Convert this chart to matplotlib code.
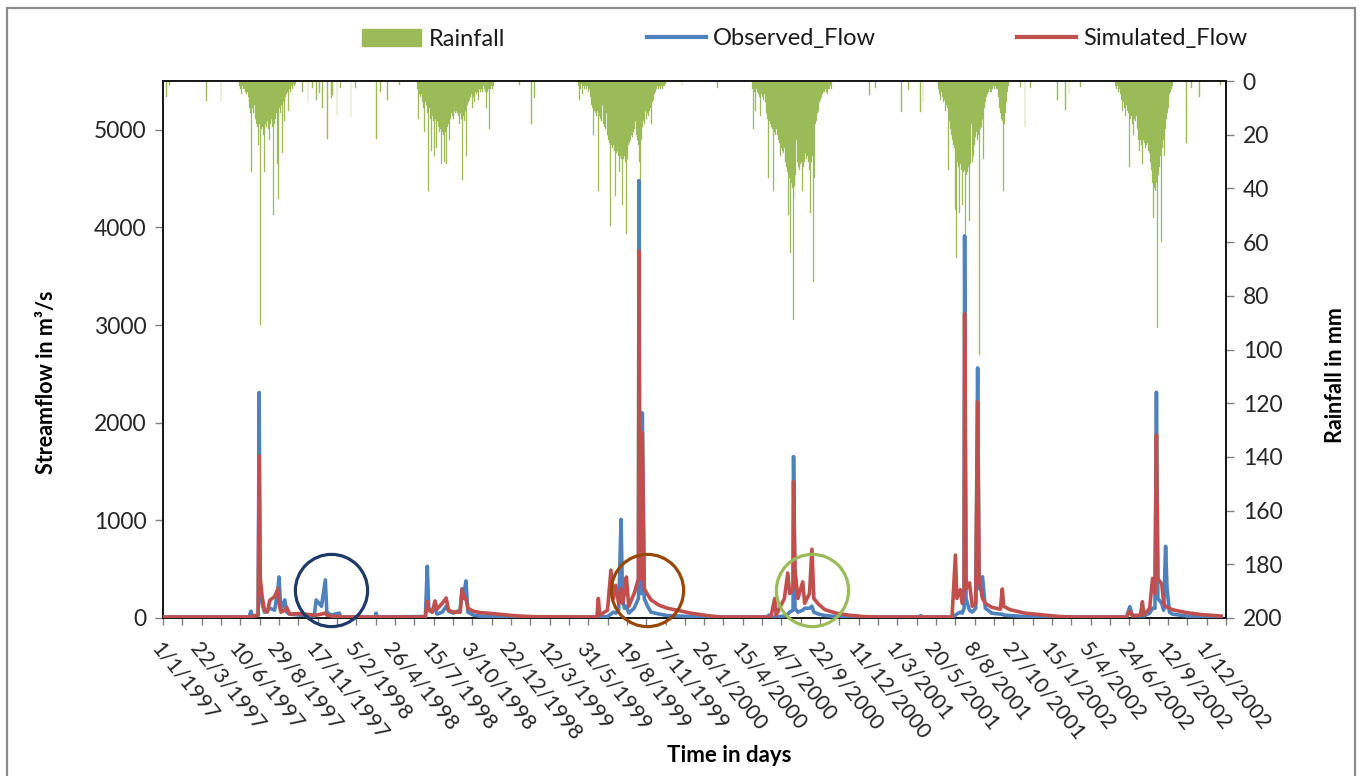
import numpy as np
import pandas as pd
import matplotlib
matplotlib.use("Agg")
import matplotlib.pyplot as plt
import matplotlib.dates as mdates
from matplotlib.patches import Patch, Rectangle
from matplotlib.lines import Line2D

plt.rcParams['font.family'] = ['Lato', 'DejaVu Sans']

# ---------------- data ----------------
flow_dates = [
    '1997-01-01', '1997-06-28', '1997-07-02', '1997-07-04', '1997-07-17', '1997-07-19', '1997-07-21', '1997-07-25',
    '1997-07-30', '1997-08-05', '1997-08-10', '1997-08-20', '1997-08-27', '1997-08-29', '1997-09-02', '1997-09-10',
    '1997-09-14', '1997-09-20', '1997-10-10', '1997-11-10', '1997-11-14', '1997-11-25', '1997-12-03', '1997-12-06',
    '1997-12-15', '1998-01-01', '1998-01-04', '1998-03-16', '1998-03-18', '1998-03-20',
    '1998-06-28', '1998-07-02', '1998-07-05', '1998-07-12', '1998-07-18', '1998-07-22', '1998-08-02', '1998-08-10',
    '1998-08-15', '1998-08-25', '1998-09-08', '1998-09-12', '1998-09-16', '1998-09-20', '1998-09-24', '1998-10-05',
    '1998-10-20', '1998-11-15', '1998-12-15', '1999-01-10', '1999-02-15',
    '1999-06-18', '1999-06-21', '1999-06-24', '1999-07-10', '1999-07-17', '1999-07-22', '1999-07-27', '1999-08-02',
    '1999-08-07', '1999-08-10', '1999-08-14', '1999-08-18', '1999-08-23', '1999-09-03', '1999-09-12', '1999-09-13',
    '1999-09-15', '1999-09-18', '1999-09-20', '1999-09-24', '1999-10-01', '1999-10-08', '1999-10-25', '1999-11-11',
    '1999-12-29', '2000-02-01', '2000-03-01',
    '2000-06-05', '2000-06-08', '2000-06-12', '2000-06-20', '2000-06-23', '2000-07-10', '2000-07-17', '2000-07-21',
    '2000-07-28', '2000-07-29', '2000-08-01', '2000-08-07', '2000-08-17', '2000-08-21', '2000-08-31', '2000-09-05',
    '2000-09-09', '2000-09-19', '2000-10-02', '2000-10-25', '2000-11-19', '2000-12-20', '2001-01-20',
    '2001-04-16', '2001-04-18', '2001-04-20', '2001-06-22', '2001-06-29', '2001-07-02', '2001-07-09', '2001-07-13',
    '2001-07-17', '2001-07-18', '2001-07-21', '2001-07-28', '2001-08-03', '2001-08-10', '2001-08-14', '2001-08-17',
    '2001-08-24', '2001-08-30', '2001-09-12', '2001-09-30', '2001-10-04', '2001-10-07', '2001-10-20', '2001-11-20',
    '2001-12-30', '2002-02-01', '2002-03-01',
    '2002-06-18', '2002-06-25', '2002-06-30', '2002-07-17', '2002-07-21', '2002-07-24', '2002-08-05', '2002-08-11',
    '2002-08-16', '2002-08-19', '2002-08-22', '2002-08-30', '2002-09-03', '2002-09-07', '2002-09-10', '2002-09-15',
    '2002-09-21', '2002-10-20', '2002-11-20', '2002-12-31',
]

observed_flow = [
    10, 10, 70, 20, 30, 2310, 300, 150, 60, 80, 100, 80, 300, 420, 80, 185, 60, 40, 30, 20, 185, 120, 390, 60, 30,
    50, 10, 10, 50, 10,
    15, 530, 100, 60, 100, 40, 60, 120, 70, 50, 80, 300, 250, 380, 60, 30, 20, 15, 10, 10, 10,
    10, 10, 10, 15, 40, 60, 50, 80, 1010, 200, 100, 120, 50, 100, 200, 4480, 300, 250, 2100, 200, 120, 60, 40, 25,
    15, 10, 10,
    10, 30, 10, 10, 10, 20, 40, 60, 80, 1653, 100, 60, 80, 100, 100, 120, 60, 40, 25, 15, 10, 10, 10,
    10, 25, 10, 10, 30, 40, 60, 50, 100, 3914, 200, 80, 60, 100, 2561, 300, 423, 100, 50, 40, 40, 30, 25, 15, 10,
    10, 10,
    10, 116, 30, 20, 30, 20, 50, 100, 100, 2313, 200, 150, 80, 734, 300, 60, 40, 20, 10, 10,
]

simulated_flow = [
    10, 10, 15, 15, 30, 1660, 420, 230, 80, 60, 180, 220, 300, 150, 60, 80, 110, 40, 45, 30, 30, 40, 50, 30, 20,
    15, 10, 10, 10, 10,
    10, 170, 80, 60, 175, 90, 150, 205, 80, 60, 60, 290, 200, 200, 100, 70, 55, 45, 30, 20, 12,
    10, 200, 30, 80, 490, 200, 335, 150, 300, 150, 250, 420, 120, 250, 400, 3760, 800, 400, 1900, 300, 240, 185, 130,
    100, 50, 25, 10,
    10, 10, 10, 200, 30, 200, 460, 250, 300, 1397, 500, 200, 370, 150, 250, 704, 200, 140, 85, 50, 30, 15, 10,
    10, 10, 10, 10, 645, 200, 290, 150, 300, 3115, 300, 360, 120, 150, 2216, 400, 200, 150, 110, 90, 297, 120, 85,
    50, 30, 15, 10,
    10, 70, 20, 30, 167, 30, 100, 406, 250, 1875, 400, 350, 150, 120, 110, 100, 85, 55, 35, 20,
]

# Rainfall (mm), wet-season blocks at 2-day steps
rain_1997_start = '1997-06-08'
rain_1997 = [2, 3, 5, 2, 3, 3, 4, 5, 4, 6, 8, 10, 12, 34, 10, 12, 9, 14, 16, 17, 24, 16, 91, 18, 17, 20, 34, 16,
             17, 15, 18, 22, 16, 14, 17, 50, 16, 14, 12, 31, 11, 44, 10, 12, 9, 27, 8, 15, 6, 5, 4, 11, 3, 4, 2,
             3, 1, 2, 1]
rain_1998_start = '1998-06-12'
rain_1998 = [3, 14, 5, 6, 5, 8, 10, 19, 8, 9, 12, 41, 10, 14, 26, 13, 15, 28, 14, 16, 25, 15, 17, 19, 18, 31, 19,
             20, 30, 19, 31, 17, 16, 22, 14, 12, 13, 14, 11, 12, 11, 12, 13, 16, 12, 14, 37, 13, 15, 12, 11, 28, 9,
             8, 7, 6, 5, 10, 6, 8, 4, 5, 4, 7, 3, 4, 3, 4, 2, 3, 4, 10, 4, 3, 18, 3, 2, 3, 5, 2]
rain_1999_start = '1999-05-10'
rain_1999 = [2, 7, 2, 3, 1, 5, 2, 3, 2, 3, 2, 4, 3, 6, 9, 10, 20, 11, 12, 13, 11, 41, 13, 14, 15, 9, 16, 17, 18,
             12, 20, 21, 22, 23, 54, 24, 25, 24, 26, 43, 27, 26, 28, 34, 28, 29, 46, 29, 28, 30, 57, 29, 24, 23,
             22, 20, 21, 19, 18, 15, 20, 21, 22, 24, 30, 96, 22, 17, 15, 16, 11, 14, 12, 13, 11, 10, 16, 8, 7, 5,
             4, 3, 2, 3, 2, 3, 2, 3, 2, 2, 1]
rain_2000_start = '2000-05-05'
rain_2000 = [3, 18, 4, 11, 3, 4, 5, 6, 13, 5, 6, 7, 5, 8, 9, 12, 14, 36, 15, 16, 17, 18, 41, 19, 20, 18, 20, 22,
             23, 28, 25, 26, 27, 25, 30, 32, 34, 50, 36, 64, 38, 40, 89, 39, 44, 35, 22, 30, 32, 33, 31, 30, 41,
             32, 30, 27, 29, 28, 30, 33, 49, 30, 28, 75, 36, 16, 15, 12, 11, 8, 7, 6, 5, 4, 5, 4, 3, 4, 5, 3, 3,
             2, 3]
rain_2001_start = '2001-05-25'
rain_2001 = [3, 5, 7, 4, 6, 8, 7, 11, 9, 10, 33, 15, 18, 20, 22, 26, 24, 25, 48, 66, 30, 32, 49, 31, 33, 46, 34,
             33, 57, 35, 34, 32, 52, 31, 16, 30, 28, 24, 21, 19, 22, 20, 102, 18, 17, 15, 14, 29, 10, 8, 6, 5, 4,
             3, 4, 4, 3, 2, 3, 2, 3, 3, 6, 10, 12, 14, 15, 41, 16, 12, 8, 4, 2]
rain_2002_start = '2002-05-27'
rain_2002 = [2, 3, 2, 4, 3, 5, 7, 11, 8, 10, 13, 9, 11, 12, 32, 14, 13, 16, 20, 14, 15, 13, 18, 22, 26, 19, 22,
             24, 31, 22, 23, 25, 24, 23, 26, 27, 30, 33, 38, 51, 40, 41, 38, 92, 35, 32, 28, 60, 25, 22, 28, 18,
             14, 12, 10, 7, 5, 4, 3, 2]

# Isolated rainfall days outside the wet-season blocks
rain_extra_dates = [
    '1997-01-08', '1997-01-15', '1997-04-01', '1997-05-01', '1997-10-17', '1997-10-28', '1997-11-07', '1997-11-14',
    '1997-11-21', '1997-11-28', '1997-12-08', '1997-12-15', '1997-12-18', '1997-12-27', '1998-01-04', '1998-01-25',
    '1998-02-04', '1998-03-18', '1998-03-28', '1998-04-11', '1998-05-05', '1999-01-08', '1999-02-03', '1999-02-08',
    '1999-12-11', '2000-02-23', '2001-01-02', '2001-01-14', '2001-03-09', '2001-03-23', '2001-04-18', '2001-04-23',
    '2001-11-11', '2001-11-20', '2001-12-01', '2002-01-26', '2002-02-12', '2002-02-19', '2002-03-15', '2002-10-21',
    '2002-10-31', '2002-11-17', '2002-12-29',
]
rain_extra_mm = [
    5.8, 1.5, 7.4, 7.4, 4, 7.7, 2.7, 7, 4.6, 10.2, 21.7, 6.4, 5.2, 12.7, 2.7, 13.3,
    2.7, 21.7, 4, 7, 1.5, 1.5, 16.1, 6.4,
    1.5, 2.7, 5.2, 2.7, 11.4, 3.3, 11.4, 7.7,
    2.1, 17, 2.7, 7, 10.8, 5.2, 2.1, 23.2,
    2.7, 5.8, 1.5,
]

date_tick_labels = ['1/1/1997', '22/3/1997', '10/6/1997', '29/8/1997', '17/11/1997', '5/2/1998', '26/4/1998',
                    '15/7/1998', '3/10/1998', '22/12/1998', '12/3/1999', '31/5/1999', '19/8/1999', '7/11/1999',
                    '26/1/2000', '15/4/2000', '4/7/2000', '22/9/2000', '11/12/2000', '1/3/2001', '20/5/2001',
                    '8/8/2001', '27/10/2001', '15/1/2002', '5/4/2002', '24/6/2002', '12/9/2002', '1/12/2002']
flow_ticks = [0, 1000, 2000, 3000, 4000, 5000]
rain_ticks = [0, 20, 40, 60, 80, 100, 120, 140, 160, 180, 200]

# circled regions (date, flow level, colour)
circle_dates = ['1997-12-14', '1999-09-29', '2000-09-06']
circle_flow = [287, 290, 285]
circle_colors = ['#1F3A68', '#974806', '#9BBB59']

assert len(flow_dates) == len(observed_flow) == len(simulated_flow)
assert len(rain_extra_dates) == len(rain_extra_mm)

# ---------------- figure ----------------
W, H = 1362, 776
fig = plt.figure(figsize=(W / 100, H / 100), dpi=100)
fig.patches.append(Rectangle((7 / W, -0.05), (1355 - 7) / W, 1.05 - 8 / H, transform=fig.transFigure,
                             fill=False, edgecolor='#8c8c8c', linewidth=1.6))

left, right, top, bottom = 163, 1226, 81, 618
ax = fig.add_axes([left / W, 1 - bottom / H, (right - left) / W, (bottom - top) / H])
axr = ax.twinx()
ax.set_zorder(axr.get_zorder() + 1)
ax.patch.set_visible(False)

green = '#9BBB59'
blue = '#4F81BD'
red = '#C0504D'

# rainfall bars
blocks = [(rain_1997_start, rain_1997), (rain_1998_start, rain_1998), (rain_1999_start, rain_1999),
          (rain_2000_start, rain_2000), (rain_2001_start, rain_2001), (rain_2002_start, rain_2002)]
for start, vals in blocks:
    d = pd.date_range(start, periods=len(vals), freq='2D')
    axr.bar(mdates.date2num(d), vals, width=2.0, color=green, linewidth=0.2, edgecolor=green, align='center')
xd = mdates.date2num(pd.to_datetime(rain_extra_dates))
axr.bar(xd, rain_extra_mm, width=1.8, color=green, linewidth=0.3, edgecolor=green)
axr.set_ylim(200, 0)
axr.set_yticks(rain_ticks)

# flows
fx = mdates.date2num(pd.to_datetime(flow_dates))
ax.plot(fx, observed_flow, color=blue, lw=2.6, solid_joinstyle='round', zorder=3)
ax.plot(fx, simulated_flow, color=red, lw=2.6, solid_joinstyle='round', zorder=4)

# circles
cx = mdates.date2num(pd.to_datetime(circle_dates))
for x, y, c in zip(cx, circle_flow, circle_colors):
    ax.plot([x], [y], marker='o', ms=52, mfc='none', mec=c, mew=2.3, zorder=6, clip_on=False)

ax.set_ylim(0, 5500)
ax.set_yticks(flow_ticks)
x0 = mdates.date2num(pd.Timestamp('1997-01-01'))
ax.set_xlim(x0, x0 + 2191)

major = pd.to_datetime(date_tick_labels, format='%d/%m/%Y')
ax.set_xticks(mdates.date2num(major))
ax.set_xticklabels(date_tick_labels)
ax.set_xticks(mdates.date2num(major + pd.Timedelta(days=40)), minor=True)

tick_color = '#262626'
for a in (ax, axr):
    for s in a.spines.values():
        s.set_color('#1a1a1a')
        s.set_linewidth(1.4)
ax.tick_params(axis='y', direction='out', length=6, width=1, colors='#808080', labelcolor=tick_color,
               labelsize=16.5, pad=6)
axr.tick_params(axis='y', direction='out', length=6, width=1, colors='#808080', labelcolor=tick_color,
                labelsize=16.5, pad=6)
ax.tick_params(axis='x', which='both', direction='out', length=5, width=1, colors='#808080',
               labelcolor=tick_color)
ax.tick_params(axis='x', which='major', labelsize=15.5, pad=10)
for lab in ax.get_xticklabels():
    lab.set_rotation(-51)
    lab.set_ha('left')
    lab.set_va('top')
    lab.set_rotation_mode('anchor')

# axis titles
fig.text(47 / W, 1 - 382 / H, 'Streamflow in m³/s', rotation=90, ha='center', va='center',
         fontsize=15.5, fontweight='bold', color='#000000')
fig.text(1335 / W, 1 - 375 / H, 'Rainfall in mm', rotation=90, ha='center', va='center',
         fontsize=15.5, fontweight='bold', color='#000000')
fig.text(729 / W, 1 - 755 / H, 'Time in days', ha='center', va='center',
         fontsize=16, fontweight='bold', color='#000000')

# legend
handles = [Patch(facecolor=green, edgecolor=green),
           Line2D([0], [0], color=blue, lw=3),
           Line2D([0], [0], color=red, lw=3)]
fig.legend(handles, ['Rainfall', 'Observed_Flow', 'Simulated_Flow'], loc='center',
           bbox_to_anchor=(805 / W, 1 - 39 / H), ncol=3, frameon=False, fontsize=17,
           handlelength=2.5, columnspacing=6.0, handletextpad=0.3, labelcolor='#1a1a1a')

fig.savefig('out.png', dpi=100)
